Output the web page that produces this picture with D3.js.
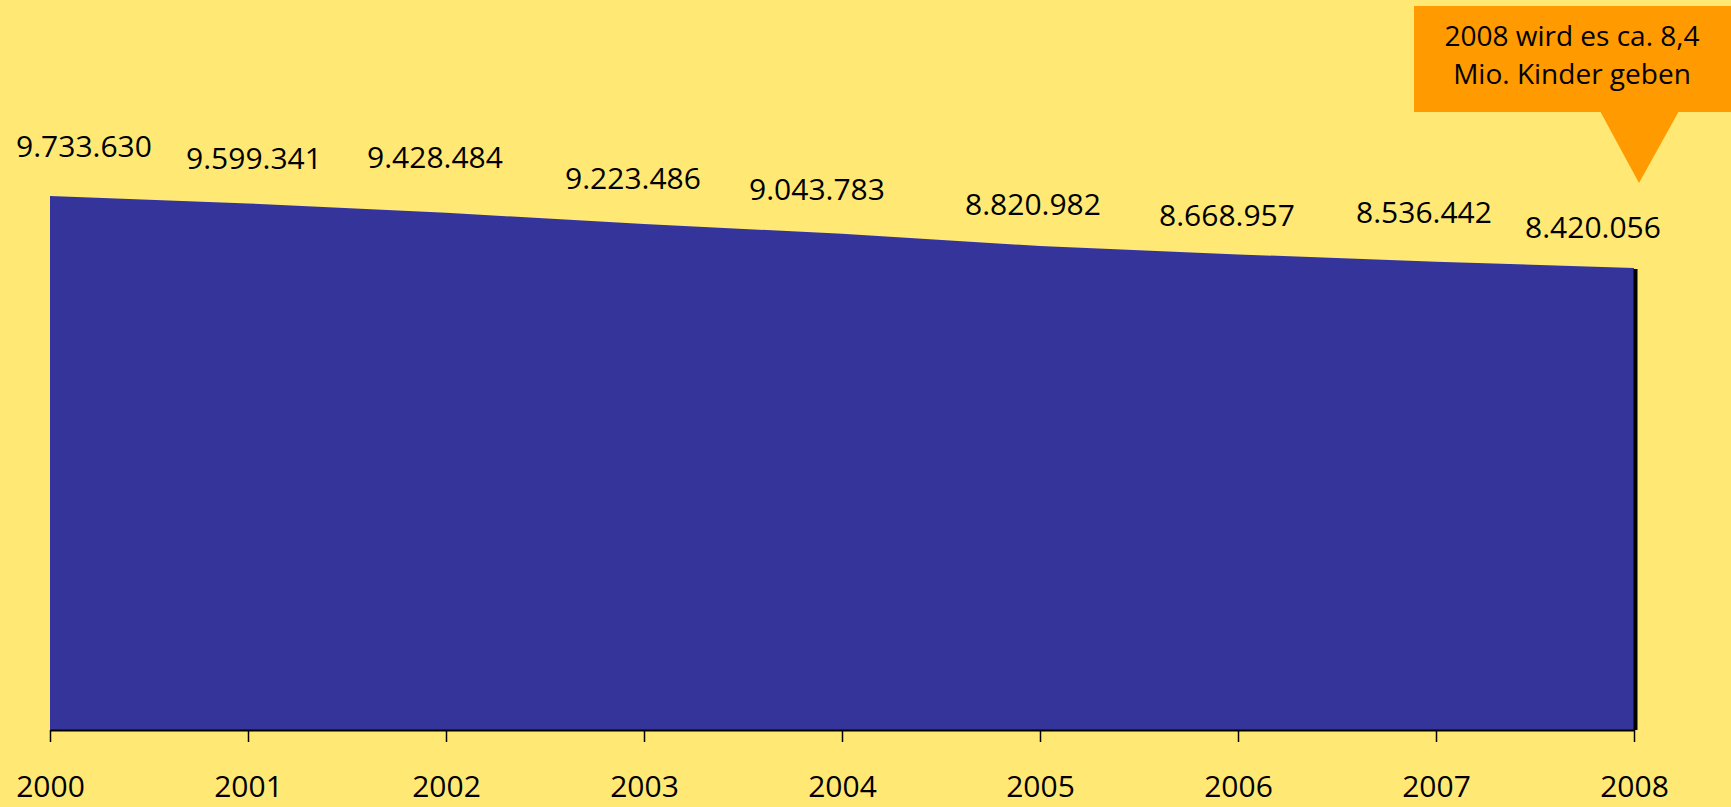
<!DOCTYPE html>
<html>
<head>
<meta charset="utf-8">
<script src="https://cdn.jsdelivr.net/npm/d3@7"></script>
<style>
  html, body { margin: 0; padding: 0; background: #ffe974; }
  svg { display: block; }
  text { font-family: "Open Sans", "Noto Sans", sans-serif; fill: #000; }
</style>
</head>
<body>
<svg id="chart" width="1731" height="807"></svg>
<script>
// --- Données ---
const years = ["2000", "2001", "2002", "2003", "2004", "2005", "2006", "2007", "2008"];
const kinder = [9733630, 9599341, 9428484, 9223486, 9043783, 8820982, 8668957, 8536442, 8420056];
const valueLabels = ["9.733.630", "9.599.341", "9.428.484", "9.223.486", "9.043.783",
                     "8.820.982", "8.668.957", "8.536.442", "8.420.056"];
const calloutLines = ["2008 wird es ca. 8,4", "Mio. Kinder geben"];

// décalages des étiquettes (mise en page seulement)
const labelNudge = [[34, -50], [6, -45], [-11, -55], [-11, -45], [-25, -44],
                    [-7, -42], [-11, -39], [-12, -49], [-41, -41]];

const svg = d3.select("#chart");
const baseY = 730;

const x = d3.scalePoint()
    .domain(years)
    .range([50, 1634]);

const y = d3.scaleLinear()
    .domain([0, 10000000])
    .range([baseY, baseY - 548.6]);

const rows = years.map((yr, i) => ({ year: yr, value: kinder[i], label: valueLabels[i], nudge: labelNudge[i] }));

// --- Surface ---
const area = d3.area()
    .x(d => x(d.year))
    .y0(baseY)
    .y1(d => y(d.value));

svg.append("path")
    .datum(rows)
    .attr("d", area)
    .attr("fill", "#35349a");

// trait noir à droite
const last = rows[rows.length - 1];
svg.append("line")
    .attr("x1", x(last.year) + 1.5).attr("x2", x(last.year) + 1.5)
    .attr("y1", y(last.value) + 1).attr("y2", baseY)
    .attr("stroke", "#000")
    .attr("stroke-width", 4);

// --- Axe X ---
const axis = d3.axisBottom(x).tickSize(12).tickPadding(34).tickSizeOuter(0);
const gx = svg.append("g")
    .attr("transform", `translate(0,${baseY})`)
    .call(axis);
gx.select(".domain").attr("stroke", "#000").attr("stroke-width", 2);
gx.selectAll(".tick line").attr("stroke", "#000").attr("stroke-width", 1.5);
gx.selectAll(".tick text")
    .attr("font-size", 30)
    .attr("fill", "#000")
    .style("font-family", "'Open Sans', 'Noto Sans', sans-serif");

// --- Étiquettes de valeurs ---
svg.append("g")
    .selectAll("text")
    .data(rows)
    .join("text")
    .attr("x", d => x(d.year) + d.nudge[0])
    .attr("y", d => y(d.value) + d.nudge[1])
    .attr("dy", "0.35em")
    .attr("text-anchor", "middle")
    .attr("font-size", 30)
    .text(d => d.label);

// --- Bulle orange ---
const callout = svg.append("g");
callout.append("rect")
    .attr("x", 1414).attr("y", 6)
    .attr("width", 1731 - 1414).attr("height", 106)
    .attr("fill", "#ff9a00");
callout.append("path")
    .attr("d", "M1600,111 L1679,111 L1639,183 Z")
    .attr("fill", "#ff9a00");
callout.selectAll("text")
    .data(calloutLines)
    .join("text")
    .attr("x", 1572)
    .attr("y", (d, i) => 36 + i * 38)
    .attr("dy", "0.35em")
    .attr("text-anchor", "middle")
    .attr("font-size", 28)
    .text(d => d);
</script>
</body>
</html>
